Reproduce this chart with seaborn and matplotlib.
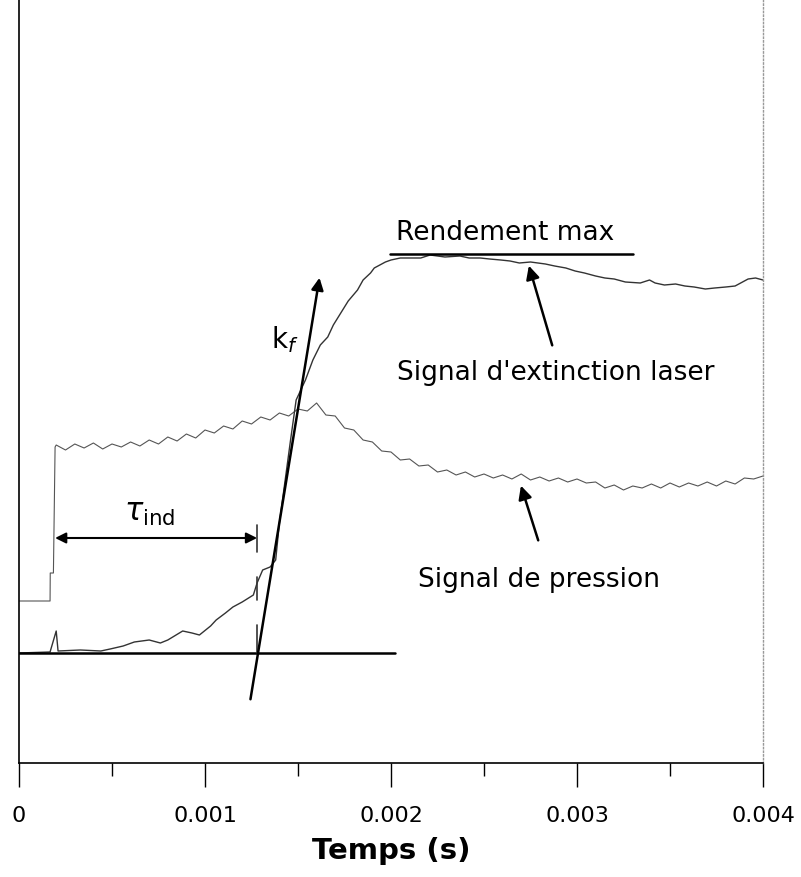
import numpy as np
import pandas as pd
import matplotlib
matplotlib.use("Agg")
import matplotlib.pyplot as plt
import seaborn as sns

# Signal de pression (unites arbitraires)
pression_t = [0.0, 0.000167, 0.000168, 0.000185, 0.000194,
              0.00020, 0.00025, 0.00030, 0.00035, 0.00040, 0.00045, 0.00050, 0.00055,
              0.00060, 0.00065, 0.00070, 0.00075, 0.00080, 0.00085, 0.00090, 0.00095,
              0.00100, 0.00105, 0.00110, 0.00115, 0.00120, 0.00125, 0.00130, 0.00135,
              0.00140, 0.00145, 0.00150, 0.00155, 0.00160, 0.00165, 0.00170, 0.00175,
              0.00180, 0.00185, 0.00190, 0.00195, 0.00200, 0.00205, 0.00210, 0.00215,
              0.00220, 0.00225, 0.00230, 0.00235, 0.00240, 0.00245, 0.00250, 0.00255,
              0.00260, 0.00265, 0.00270, 0.00275, 0.00280, 0.00285, 0.00290, 0.00295,
              0.00300, 0.00305, 0.00310, 0.00315, 0.00320, 0.00325, 0.00330, 0.00335,
              0.00340, 0.00345, 0.00350, 0.00355, 0.00360, 0.00365, 0.00370, 0.00375,
              0.00380, 0.00385, 0.00390, 0.00395, 0.00400]
pression_v = [162, 162, 190, 190, 316,
              318, 313, 319, 315, 320, 314, 319, 316,
              321, 317, 323, 319, 326, 322, 329, 325,
              333, 330, 337, 334, 342, 339, 346, 343,
              350, 347, 354, 352, 360, 348, 347, 335,
              333, 323, 321, 312, 311, 303, 304, 297,
              298, 291, 293, 288, 291, 286, 289, 285,
              288, 284, 289, 283, 286, 282, 285, 281,
              284, 280, 281, 275, 278, 273, 277, 275,
              279, 275, 280, 276, 280, 277, 281, 277,
              282, 279, 285, 284, 287]

# Signal d'extinction laser (unites arbitraires)
laser_t = [0.0, 0.000167, 0.00020, 0.00021, 0.00033, 0.00044, 0.00049, 0.00056,
           0.00062, 0.00070, 0.00076, 0.00080, 0.00088, 0.00093, 0.00097, 0.00103,
           0.00106, 0.00111, 0.00115, 0.00120, 0.00126, 0.00128, 0.00131, 0.00135,
           0.00138, 0.00140, 0.00146, 0.00149, 0.00154, 0.00158, 0.00162, 0.00166,
           0.00169, 0.00173, 0.00177, 0.00182, 0.00185, 0.00189, 0.00191, 0.00194,
           0.00197, 0.00200, 0.00205, 0.00216, 0.00221, 0.00229, 0.00237, 0.00242,
           0.00248, 0.00253, 0.00259, 0.00264, 0.00269, 0.00275, 0.00283, 0.00288,
           0.00294, 0.00299, 0.00304, 0.00310, 0.00315, 0.00320, 0.00326, 0.00334,
           0.00339, 0.00342, 0.00347, 0.00353, 0.00358, 0.00363, 0.00369, 0.00374,
           0.00380, 0.00385, 0.00389, 0.00392, 0.00396, 0.00400]
laser_v = [110, 111, 132, 112, 113, 112, 114, 117,
           121, 123, 120, 123, 132, 130, 128, 137,
           143, 150, 156, 161, 168, 180, 193, 196,
           203, 240, 323, 363, 383, 403, 418, 426,
           438, 450, 462, 473, 483, 490, 495, 498,
           501, 503, 505, 505, 508, 506, 507, 505,
           505, 504, 503, 502, 500, 501, 499, 497,
           495, 492, 490, 487, 485, 484, 481, 480,
           483, 480, 478, 479, 477, 476, 474, 475,
           476, 477, 481, 484, 485, 483]

xticks = [0, 0.001, 0.002, 0.003, 0.004]
xtick_labels = ["0", "0.001", "0.002", "0.003", "0.004"]

df_p = pd.DataFrame({"t": pression_t, "v": pression_v})
df_l = pd.DataFrame({"t": laser_t, "v": laser_v})

sns.set_style("ticks")
plt.rcParams["font.family"] = ["DejaVu Sans"]
plt.rcParams["text.color"] = "black"
plt.rcParams["xtick.color"] = "black"
plt.rcParams["axes.labelcolor"] = "black"

fig = plt.figure(figsize=(8.01, 8.77), dpi=100)
ax = fig.add_axes([19 / 801, 114 / 877, 744 / 801, 763 / 877])

sns.lineplot(data=df_p, x="t", y="v", ax=ax, color="#555555", lw=0.8,
             estimator=None, sort=False)
sns.lineplot(data=df_l, x="t", y="v", ax=ax, color="#333333", lw=1.0,
             estimator=None, sort=False)

ax.set_xlim(0, 0.004)
ax.set_ylim(0, 763)

# lignes de reference
ax.plot([0, 0.00202], [110, 110], color="black", lw=1.8)
ax.plot([0.001995, 0.0033], [509, 509], color="black", lw=1.8)
ax.text(0.002613, 530, "Rendement max", fontsize=19, ha="center", va="center")

# pente k_f
ax.annotate("", xy=(0.001618, 488), xytext=(0.001242, 61),
            arrowprops=dict(arrowstyle="-|>", color="black", lw=1.8, mutation_scale=18))
ax.text(0.00143, 423, r"k$_f$", fontsize=20, ha="center", va="center")

# temps d'induction
ax.annotate("", xy=(0.000194, 225), xytext=(0.00128, 225),
            arrowprops=dict(arrowstyle="<|-|>", color="black", lw=1.5, mutation_scale=16,
                            shrinkA=0, shrinkB=0))
for y0, y1 in [(211, 238), (163, 186), (110, 138)]:
    ax.plot([0.00128, 0.00128], [y0, y1], color="#333333", lw=1.2)
ax.text(0.000704, 250, r"$\tau_{\mathrm{ind}}$", fontsize=22, ha="center", va="center")

# fleches des signaux
ax.annotate("", xy=(0.002737, 500), xytext=(0.002871, 415),
            arrowprops=dict(arrowstyle="-|>", color="black", lw=1.8, mutation_scale=20))
ax.text(0.002887, 390, "Signal d'extinction laser", fontsize=19, ha="center", va="center")
ax.annotate("", xy=(0.002694, 280), xytext=(0.002796, 220),
            arrowprops=dict(arrowstyle="-|>", color="black", lw=1.8, mutation_scale=20))
ax.text(0.002796, 183, "Signal de pression", fontsize=19, ha="center", va="center")

# axes
ax.set_xticks(xticks)
ax.set_xticklabels(xtick_labels, fontsize=16)
ax.set_xticks([0.0005, 0.0015, 0.0025, 0.0035], minor=True)
ax.tick_params(axis="x", which="major", direction="out", length=17, width=1, pad=14)
ax.tick_params(axis="x", which="minor", direction="out", length=9, width=1)
ax.set_yticks([])
ax.set_ylabel("")
ax.set_xlabel("Temps (s)", fontsize=21, fontweight="bold", labelpad=8)
ax.spines["top"].set_visible(False)
ax.spines["right"].set_color("#999999")
ax.spines["right"].set_linestyle(":")
ax.spines["right"].set_linewidth(1)
ax.spines["left"].set_color("black")
ax.spines["bottom"].set_color("black")
ax.spines["left"].set_linewidth(1.2)
ax.spines["bottom"].set_linewidth(1.2)

fig.savefig("out.png", dpi=100)
